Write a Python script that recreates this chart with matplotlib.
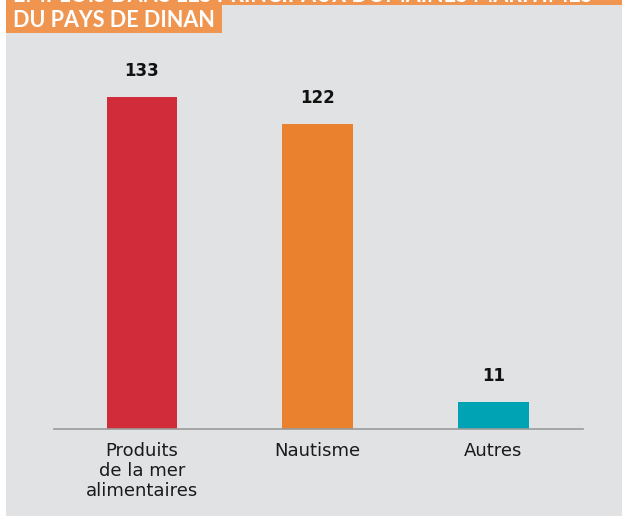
import matplotlib
matplotlib.use("Agg")
import matplotlib.pyplot as plt
from matplotlib.patches import Rectangle

categories = ["Produits\nde la mer\nalimentaires", "Nautisme", "Autres"]
values = [133, 122, 11]
colors = ["#d02c39", "#e9812e", "#00a3b4"]
title_top = "EMPLOIS DANS LES PRINCIPAUX DOMAINES MARITIMES"
title_bottom = "DU PAYS DE DINAN"

BG = "#e1e2e4"
TITLE_BG = "#ef9550"

plt.rcParams["font.family"] = ["Lato", "DejaVu Sans"]

W, H = 622, 516
fig = plt.figure(figsize=(W / 100, H / 100), dpi=100)
fig.patch.set_facecolor(BG)

# thin white strip on the left
fig.patches.append(Rectangle((0, 0), 6 / W, 1, transform=fig.transFigure,
                             facecolor="white", edgecolor="none", zorder=-1))
# title bands (first line is cut off at the top edge, as in the source)
fig.patches.append(Rectangle((6 / W, 1 - 5 / H), 1, 5 / H, transform=fig.transFigure,
                             facecolor=TITLE_BG, edgecolor="none", zorder=-1))
fig.patches.append(Rectangle((6 / W, 1 - 33 / H), 216 / W, 33 / H, transform=fig.transFigure,
                             facecolor=TITLE_BG, edgecolor="none", zorder=-1))
fig.text(13 / W, 1 - 2 / H, title_top, color="white", fontsize=15.5, fontweight="bold",
         va="baseline", ha="left")
fig.text(13 / W, 1 - 27 / H, title_bottom, color="white", fontsize=15.5, fontweight="bold",
         va="baseline", ha="left")

# axes: x 54..583 px, baseline at 429 px
ax = fig.add_axes([54 / W, (H - 429) / H, (583 - 54) / W, 369 / H])
ax.set_zorder(5)
ax.set_facecolor("none")
x = range(len(values))
ax.bar(x, values, width=0.40, color=colors, zorder=2)
ax.set_xlim(-0.5, 2.51)
ax.set_ylim(0, 369 / 2.5)
for i, v in enumerate(values):
    ax.annotate(str(v), (i, v), xytext=(0, 12), textcoords="offset points",
                ha="center", va="bottom", fontsize=12, fontweight="bold",
                color="#111111", family="DejaVu Sans")

for s in ["top", "right", "left"]:
    ax.spines[s].set_visible(False)
ax.spines["bottom"].set_color("#9a9a9a")
ax.spines["bottom"].set_linewidth(1.2)
ax.set_yticks([])
ax.set_xticks(list(x))
ax.set_xticklabels(categories, fontsize=13, color="#1a1a1a", linespacing=1.15,
                   family="DejaVu Sans")
ax.tick_params(axis="x", length=0, pad=9)

fig.savefig("out.png", dpi=100, facecolor=BG)
